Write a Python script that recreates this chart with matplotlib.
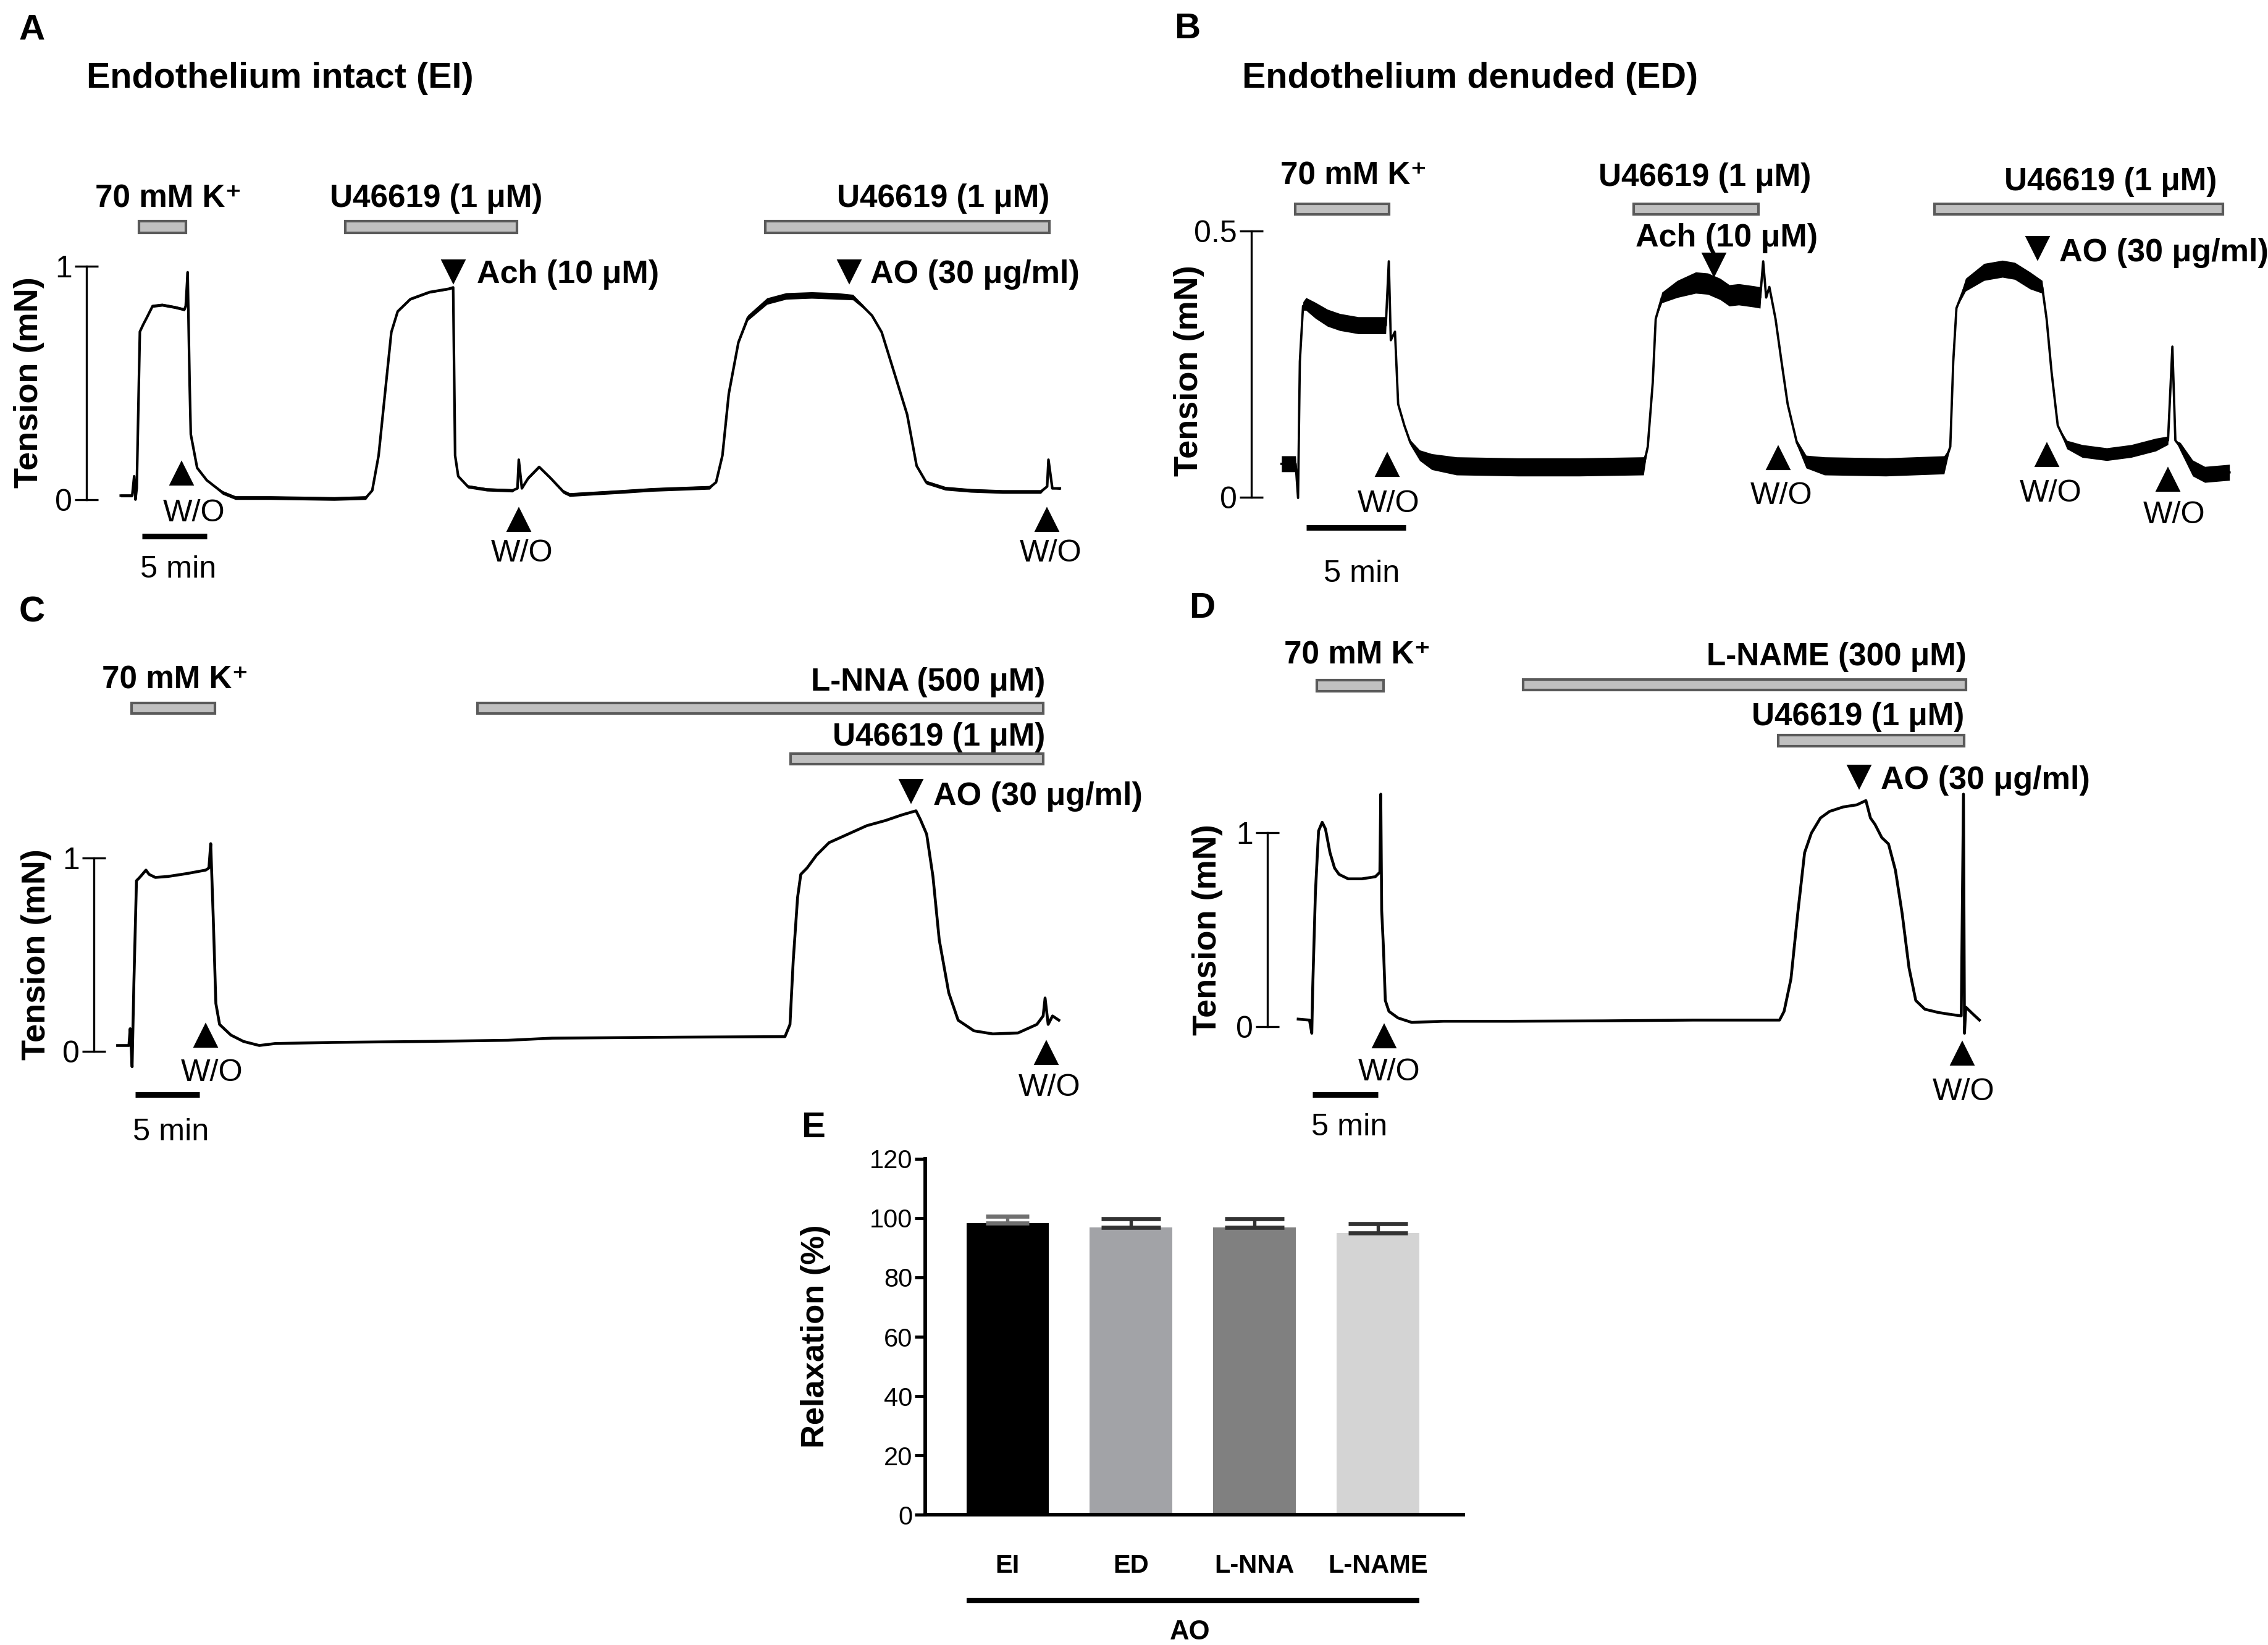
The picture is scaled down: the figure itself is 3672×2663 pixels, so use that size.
import numpy as np
import matplotlib
matplotlib.use('Agg')
import matplotlib.pyplot as plt

plt.rcParams['font.family'] = ['Liberation Sans', 'DejaVu Sans']

# reference frame (scaled picture) used to place the panels
W, H = 1568.0, 1136.0

# ---------------- A : endothelium intact (time in min, tension in mN)
a_t = [0, 0.88, 1.03, 1.13, 1.23, 1.47, 1.72, 2.0, 2.45, 3.19,
       4.17, 4.90, 5.0, 5.15, 5.30, 5.39, 5.88, 6.62, 7.84, 8.82,
       11.52, 13.97, 16.42, 18.87, 19.36, 19.85, 20.34, 20.83, 21.32, 22.30,
       23.77, 25.25, 25.59, 25.74, 25.98, 26.72, 28.19, 30.15, 30.54, 30.64,
       30.88, 31.37, 32.21, 33.09, 34.07, 34.56, 36.03, 38.48, 40.93, 43.38,
       45.34, 45.83, 46.32, 46.81, 47.55, 48.28, 49.75, 51.23, 53.19, 55.15,
       56.37, 57.11, 57.84, 58.58, 59.56, 60.54, 61.27, 62.01, 63.48, 65.44,
       67.89, 70.83, 71.32, 71.42, 71.72, 72.30]
a_mn = [0.017, 0.017, 0.10, 0.0, 0.05, 0.72, 0.75, 0.78, 0.83, 0.835,
        0.825, 0.815, 0.83, 0.975, 0.5, 0.28, 0.136, 0.083, 0.03, 0.008,
        0.008, 0.006, 0.004, 0.008, 0.039, 0.189, 0.454, 0.718, 0.807, 0.86,
        0.89, 0.904, 0.91, 0.189, 0.10, 0.056, 0.043, 0.039, 0.048, 0.171,
        0.048, 0.092, 0.14, 0.092, 0.034, 0.021, 0.026, 0.034, 0.043, 0.048,
        0.052, 0.074, 0.189, 0.454, 0.674, 0.78, 0.851, 0.873, 0.877, 0.873,
        0.868, 0.83, 0.789, 0.718, 0.542, 0.365, 0.145, 0.074, 0.048, 0.039,
        0.034, 0.034, 0.056, 0.171, 0.048, 0.048]
# half width of the recording noise band
a_noise = [0.006, 0.006, 0, 0, 0, 0, 0, 0, 0.006, 0.006,
           0.006, 0.006, 0.006, 0, 0, 0, 0, 0, 0.008, 0.008,
           0.008, 0.008, 0.008, 0.008, 0, 0, 0, 0, 0.004, 0.005,
           0.005, 0.005, 0.005, 0, 0, 0.007, 0.007, 0.007, 0, 0,
           0, 0.006, 0.006, 0.006, 0.008, 0.008, 0.008, 0.008, 0.008, 0.008,
           0.008, 0, 0, 0, 0.006, 0.012, 0.014, 0.014, 0.014, 0.014,
           0.012, 0.008, 0, 0, 0, 0, 0, 0.008, 0.008, 0.008,
           0.008, 0.008, 0, 0, 0, 0.005]
a_drugs = ['70 mM K⁺', 'U46619 (1 μM)', 'U46619 (1 μM)']
a_drug_on = [1.4, 17.3, 49.6]
a_drug_off = [5.0, 30.5, 71.5]
a_wo = [4.66, 30.64, 71.3]
a_adds = ['Ach (10 μM)', 'AO (30 μg/ml)']
a_add_t = [25.6, 56.1]

# ---------------- B : endothelium denuded
b_t = [0, 0.71, 0.83, 0.92, 1.08, 1.23, 1.70, 2.31, 2.93, 3.85,
       5.24, 5.39, 5.49, 5.70, 5.86, 6.17, 6.47, 6.94, 7.55, 8.79,
       11.87, 14.95, 18.19, 18.40, 18.65, 18.80, 19.11, 19.88, 20.81, 21.42,
       22.04, 22.50, 22.97, 23.74, 24.05, 24.20, 24.35, 24.51, 24.82, 25.12,
       25.43, 25.89, 26.36, 27.28, 30.36, 33.29, 33.60, 33.75, 33.91, 34.37,
       35.30, 36.22, 36.84, 37.61, 38.22, 38.44, 38.69, 39.00, 39.46, 40.23,
       41.46, 42.69, 43.93, 44.54, 44.76, 44.91, 45.16, 45.78, 46.39, 47.63]
b_mn = [0.063, 0.063, -0.001, 0.255, 0.359, 0.363, 0.351, 0.337, 0.329, 0.323,
        0.323, 0.443, 0.295, 0.311, 0.175, 0.135, 0.103, 0.079, 0.067, 0.059,
        0.057, 0.057, 0.059, 0.095, 0.215, 0.335, 0.375, 0.391, 0.403, 0.401,
        0.391, 0.379, 0.381, 0.377, 0.375, 0.443, 0.375, 0.395, 0.335, 0.255,
        0.175, 0.103, 0.067, 0.059, 0.057, 0.061, 0.095, 0.255, 0.355, 0.399,
        0.423, 0.429, 0.425, 0.407, 0.395, 0.335, 0.235, 0.135, 0.099, 0.087,
        0.081, 0.087, 0.099, 0.107, 0.283, 0.107, 0.095, 0.055, 0.043, 0.047]
b_noise = [0.015, 0.015, 0, 0, 0.008, 0.012, 0.015, 0.016, 0.016, 0.016,
           0.016, 0, 0, 0, 0, 0, 0.005, 0.01, 0.015, 0.017,
           0.017, 0.017, 0.017, 0, 0, 0, 0.01, 0.016, 0.02, 0.02,
           0.02, 0.02, 0.02, 0.02, 0.02, 0, 0, 0, 0, 0,
           0, 0.005, 0.012, 0.017, 0.017, 0.017, 0, 0, 0, 0.012,
           0.016, 0.016, 0.016, 0.016, 0.012, 0, 0, 0, 0.008, 0.012,
           0.012, 0.012, 0.012, 0.008, 0, 0, 0.008, 0.015, 0.015, 0.015]
b_drugs = ['70 mM K⁺', 'U46619 (1 μM)', 'U46619 (1 μM)']
b_drug_on = [0.68, 17.7, 32.8]
b_drug_off = [5.39, 23.95, 47.3]
b_wo = [5.30, 24.97, 38.44, 44.54]
b_adds = ['Ach (10 μM)', 'AO (30 μg/ml)']
b_add_t = [21.73, 38.0]

# ---------------- C : L-NNA
c_t = [0, 0.88, 0.98, 1.13, 1.27, 1.47, 1.72, 2.21, 2.45, 2.94,
       3.92, 5.39, 6.86, 7.11, 7.25, 7.45, 7.65, 7.94, 8.82, 9.80,
       11.03, 12.25, 16.67, 24.02, 30.39, 33.82, 43.63, 51.96, 52.35, 52.60,
       52.94, 53.19, 53.68, 54.41, 55.39, 56.86, 58.33, 59.80, 61.03, 62.16,
       62.50, 62.99, 63.48, 63.97, 64.71, 65.44, 66.67, 68.14, 70.10, 71.57,
       72.06, 72.21, 72.45, 72.79, 73.28]
c_mn = [0.03, 0.03, 0.117, -0.08, 0.358, 0.883, 0.90, 0.938, 0.916, 0.90,
        0.905, 0.92, 0.938, 0.949, 1.075, 0.686, 0.248, 0.139, 0.084, 0.051,
        0.03, 0.04, 0.046, 0.051, 0.057, 0.068, 0.073, 0.076, 0.139, 0.467,
        0.796, 0.916, 0.949, 1.015, 1.08, 1.124, 1.168, 1.195, 1.223, 1.245,
        1.20, 1.124, 0.905, 0.577, 0.303, 0.161, 0.106, 0.09, 0.095, 0.139,
        0.183, 0.276, 0.139, 0.183, 0.161]
c_drugs = ['70 mM K⁺', 'L-NNA (500 μM)', 'U46619 (1 μM)']
c_drug_on = [1.10, 28.0, 52.4]
c_drug_off = [7.60, 72.05, 72.05]
c_wo = [6.86, 72.3]
c_add_t = [61.76]

# ---------------- D : L-NAME
d_t = [0, 0.87, 1.05, 1.12, 1.33, 1.57, 1.85, 2.10, 2.45, 2.80,
       3.15, 3.85, 4.90, 5.94, 6.29, 6.36, 6.43, 6.57, 6.71, 6.99,
       7.69, 8.74, 11.19, 16.43, 23.43, 30.42, 37.06, 37.41, 37.94, 38.46,
       38.99, 39.51, 40.21, 40.91, 41.96, 43.01, 43.71, 44.06, 44.41, 44.93,
       45.45, 45.98, 46.50, 47.03, 47.55, 48.25, 49.30, 50.35, 51.05, 51.22,
       51.30, 51.40, 51.92, 52.45]
d_mn = [0.039, 0.034, -0.034, 0.202, 0.696, 1.01, 1.055, 1.021, 0.898, 0.819,
        0.786, 0.763, 0.763, 0.774, 0.797, 1.20, 0.60, 0.40, 0.135, 0.079,
        0.045, 0.022, 0.028, 0.028, 0.03, 0.034, 0.034, 0.079, 0.247, 0.584,
        0.898, 0.999, 1.077, 1.111, 1.134, 1.145, 1.167, 1.077, 1.044, 0.976,
        0.943, 0.808, 0.584, 0.303, 0.135, 0.09, 0.073, 0.062, 0.056, 1.20,
        -0.034, 0.101, 0.067, 0.034]
d_drugs = ['70 mM K⁺', 'L-NAME (300 μM)', 'U46619 (1 μM)']
d_drug_on = [1.45, 17.34, 36.95]
d_drug_off = [6.57, 51.43, 51.26]
d_wo = [6.64, 51.12]
d_add_t = [43.18]

# ---------------- E : relaxation to AO
groups = ['EI', 'ED', 'L-NNA', 'L-NAME']
relax = [98.3, 96.8, 96.8, 95.0]
relax_sem = [2.3, 3.0, 3.0, 3.1]
bar_colors = ['#000000', '#a2a3a7', '#808080', '#d4d4d4']

fig = plt.figure(figsize=(12.24, 8.8767), dpi=300)

FS_DRUG = 12.3
FS_ADD = 12.5
FS_WO = 12.1


def ftext(x, y, s, **kw):
    fig.text(x / W, 1 - y / H, s, **kw)


def trace_panel(box, cal, spine_t, ytop, ylab):
    L, R, T, B = box
    x0, ppm, yz, ppn = cal
    ax = fig.add_axes([L / W, 1 - B / H, (R - L) / W, (B - T) / H])
    ax.set_xlim((L - x0) / ppm, (R - x0) / ppm)
    ax.set_ylim((yz - B) / ppn, (yz - T) / ppn)
    ax.patch.set_alpha(0)
    for s in ('top', 'right', 'bottom'):
        ax.spines[s].set_visible(False)
    ax.spines['left'].set_position(('data', spine_t))
    ax.spines['left'].set_bounds(0, ytop)
    ax.spines['left'].set_linewidth(0.8)
    ax.set_xticks([])
    ax.set_yticks([0, ytop])
    ax.set_yticklabels(['0', ylab])
    ax.tick_params(axis='y', direction='inout', length=9, width=0.8,
                   labelsize=12, pad=1)
    return ax


def drug_bars(ax, on, off, levels, h):
    for a, b, lv in zip(on, off, levels):
        ax.barh(lv, b - a, left=a, height=h, color='#c0c0c0',
                edgecolor='#5a5a5a', linewidth=1.0, clip_on=False)


def wash(ax, ts, ys, txt_pos):
    ax.plot(ts, ys, linestyle='none', marker='^', ms=8, color='k', clip_on=False)
    for (x, y) in txt_pos:
        ax.text(x, y, 'W/O', ha='center', va='center', fontsize=FS_WO)


def add_mark(ax, ts, ys):
    ax.plot(ts, ys, linestyle='none', marker='v', ms=8, color='k', clip_on=False)


def scale_bar(ax, t0, t1, y, ty):
    ax.plot([t0, t1], [y, y], color='k', lw=2.2, solid_capstyle='butt', clip_on=False)
    ax.text((t0 + t1) / 2 + 0.3, ty, '5 min', ha='center', va='center', fontsize=FS_WO)


drug_kw = dict(fontsize=FS_DRUG, fontweight='bold', va='center')
add_kw = dict(fontsize=FS_ADD, fontweight='bold', va='center')

# ---- A
axa = trace_panel((30, 780, 95, 410), (83.5, 8.98, 345, 161), -2.65, 1, '1')
at, am, an = np.array(a_t), np.array(a_mn), np.array(a_noise)
axa.fill_between(at, am - an, am + an, color='k', lw=0)
axa.plot(at, am, color='k', lw=1.0)
drug_bars(axa, a_drug_on, a_drug_off, [1.17] * 3, 0.05)
axa.text(3.66, 1.29, a_drugs[0], ha='center', **drug_kw)
axa.text(24.3, 1.29, a_drugs[1], ha='center', **drug_kw)
axa.text(71.5, 1.29, a_drugs[2], ha='right', **drug_kw)
add_mark(axa, a_add_t, [0.98, 0.98])
axa.text(27.4, 0.965, a_adds[0], ha='left', **add_kw)
axa.text(57.7, 0.965, a_adds[1], ha='left', **add_kw)
wash(axa, a_wo, [0.11, -0.089, -0.089], [(5.64, -0.058), (30.9, -0.23), (71.6, -0.23)])
scale_bar(axa, 1.62, 6.62, -0.157, -0.30)

# ---- B
axb = trace_panel((840, 1565, 95, 410), (886, 13.76, 343.5, 368), -1.53, 0.5, '0.5')
bt, bm, bn = np.array(b_t), np.array(b_mn), np.array(b_noise)
axb.fill_between(bt, bm - bn, bm + bn, color='k', lw=0)
axb.plot(bt, bm, color='k', lw=0.9)
drug_bars(axb, b_drug_on, b_drug_off, [0.541] * 3, 0.02)
axb.text(3.62, 0.603, b_drugs[0], ha='center', **drug_kw)
axb.text(21.27, 0.600, b_drugs[1], ha='center', **drug_kw)
axb.text(47.0, 0.592, b_drugs[2], ha='right', **drug_kw)
add_mark(axb, b_add_t, [0.437, 0.469])
axb.text(22.35, 0.487, b_adds[0], ha='center', **add_kw)
axb.text(39.06, 0.459, b_adds[1], ha='left', **add_kw)
wash(axb, b_wo, [0.061, 0.073, 0.079, 0.033],
     [(5.39, -0.013), (25.12, 0.003), (38.63, 0.007), (44.85, -0.033)])
scale_bar(axb, 1.23, 6.23, -0.056, -0.144)

# ---- C
axc = trace_panel((30, 780, 440, 800), (81.3, 8.88, 726, 133.4), -1.86, 1, '1')
axc.plot(c_t, c_mn, color='k', lw=1.1)
drug_bars(axc, c_drug_on, c_drug_off, [1.775, 1.775, 1.513], 0.055)
axc.text(4.5, 1.92, c_drugs[0], ha='center', **drug_kw)
axc.text(72.2, 1.91, c_drugs[1], ha='right', **drug_kw)
axc.text(72.2, 1.625, c_drugs[2], ha='right', **drug_kw)
add_mark(axc, c_add_t, [1.35])
axc.text(63.5, 1.32, 'AO (30 μg/ml)', ha='left', **add_kw)
wash(axc, c_wo, [0.079, -0.01], [(7.35, -0.113), (72.55, -0.19)])
scale_bar(axc, 1.37, 6.37, -0.224, -0.42)

# ---- D
axd = trace_panel((840, 1565, 440, 800), (897.5, 8.98, 709, 133.8), -2.38, 1, '1')
axd.plot(d_t, d_mn, color='k', lw=1.1)
drug_bars(axd, d_drug_on, d_drug_off, [1.76, 1.765, 1.476], 0.055)
axd.text(4.55, 1.917, d_drugs[0], ha='center', **drug_kw)
axd.text(51.43, 1.907, d_drugs[1], ha='right', **drug_kw)
axd.text(51.26, 1.60, d_drugs[2], ha='right', **drug_kw)
add_mark(axd, d_add_t, [1.29])
axd.text(44.83, 1.27, 'AO (30 μg/ml)', ha='left', **add_kw)
wash(axd, d_wo, [-0.05, -0.14], [(6.99, -0.236), (51.22, -0.337)])
scale_bar(axd, 1.12, 6.12, -0.35, -0.52)

# ---- E
L, R, T, B = 639.6, 1011.5, 800.2, 1046.1
axe = fig.add_axes([L / W, 1 - B / H, (R - L) / W, (B - T) / H])
x = np.arange(len(groups))
bw = 0.667
axe.bar(x, relax, width=bw, color=bar_colors, zorder=2)
err_cols = ['#707070', '#333333', '#333333', '#333333']
caps = [8.5, 11.5, 11.5, 11.5]
for i in range(len(groups)):
    axe.errorbar(x[i], relax[i], yerr=[[0], [relax_sem[i]]], color=err_cols[i],
                 elinewidth=1.3, capthick=1.6, capsize=caps[i], zorder=3)
axe.set_ylim(0, 120)
axe.set_xlim(-0.667, 3.69)
axe.set_yticks(range(0, 121, 20))
axe.set_xticks(x)
axe.set_xticklabels(groups, fontweight='bold', fontsize=10)
for s in ('top', 'right'):
    axe.spines[s].set_visible(False)
for s in ('left', 'bottom'):
    axe.spines[s].set_linewidth(1.4)
axe.tick_params(axis='y', direction='out', length=4, width=1.2, labelsize=10, pad=1)
axe.tick_params(axis='x', length=0, pad=15)
axe.plot([x[0] - bw / 2, x[-1] + bw / 2], [-28.8, -28.8], color='k', lw=2.0,
         solid_capstyle='butt', clip_on=False)
axe.text(1.48, -39.5, 'AO', ha='center', va='center', fontsize=10.5, fontweight='bold')

# ---- letters, titles, y labels
let = dict(fontsize=14, fontweight='bold', ha='center', va='center')
ftext(22, 21, 'A', **let)
ftext(821, 20, 'B', **let)
ftext(22, 423, 'C', **let)
ftext(831, 420, 'D', **let)
ftext(562, 779, 'E', **let)
ftext(59.7, 54, 'Endothelium intact (EI)', fontsize=13.8, fontweight='bold', va='center')
ftext(858.9, 54, 'Endothelium denuded (ED)', fontsize=13.8, fontweight='bold', va='center')
yl = dict(fontsize=13, fontweight='bold', rotation=90, ha='center', va='center')
ftext(20, 264, 'Tension (mN)', **yl)
ftext(822, 256, 'Tension (mN)', **yl)
ftext(25, 659, 'Tension (mN)', **yl)
ftext(835, 642, 'Tension (mN)', **yl)
ftext(564, 923, 'Relaxation (%)', fontsize=12.6, fontweight='bold', rotation=90,
      ha='center', va='center')

fig.savefig('out.png', dpi=300)
